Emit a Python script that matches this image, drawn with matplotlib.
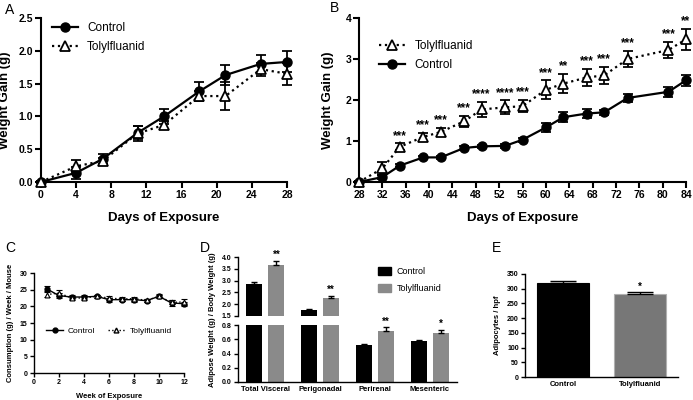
import matplotlib
matplotlib.use('Agg')
import matplotlib.pyplot as plt
from matplotlib.lines import Line2D
from matplotlib.patches import Patch

plt.rcParams['font.family'] = ['Liberation Sans', 'DejaVu Sans']

# Panel A: weight gain, days 0-28
days_a = [0, 4, 7, 11, 14, 18, 21, 25, 28]
ctrl_a = [0, 0.14, 0.35, 0.75, 1.0, 1.38, 1.63, 1.80, 1.83]
ctrl_a_err = [0.02, 0.09, 0.08, 0.10, 0.12, 0.14, 0.15, 0.13, 0.16]
tol_a = [0, 0.24, 0.32, 0.74, 0.87, 1.31, 1.31, 1.72, 1.65]
tol_a_err = [0.02, 0.09, 0.05, 0.12, 0.06, 0.08, 0.21, 0.10, 0.17]

# Panel B: weight gain, days 28-84
days_b = [28, 32, 35, 39, 42, 46, 49, 53, 56, 60, 63, 67, 70, 74, 81, 84]
ctrl_b = [0, 0.12, 0.40, 0.60, 0.60, 0.83, 0.87, 0.88, 1.03, 1.33, 1.58, 1.67, 1.70, 2.05, 2.20, 2.48]
ctrl_b_err = [0.02, 0.05, 0.04, 0.03, 0.03, 0.04, 0.04, 0.04, 0.05, 0.10, 0.12, 0.12, 0.06, 0.10, 0.12, 0.13]
tol_b = [0, 0.33, 0.86, 1.10, 1.22, 1.48, 1.77, 1.82, 1.85, 2.25, 2.40, 2.55, 2.60, 3.00, 3.22, 3.48]
tol_b_err = [0.02, 0.17, 0.08, 0.10, 0.10, 0.13, 0.18, 0.17, 0.15, 0.23, 0.23, 0.20, 0.20, 0.20, 0.20, 0.25]
stars_b = ['', '', '***', '***', '***', '***', '****', '****', '***', '***', '**', '***', '***', '***', '***', '**']

# Panel C: food consumption per week
weeks_c = [1, 2, 3, 4, 5, 6, 7, 8, 9, 10, 11, 12]
ctrl_c = [25.3, 23.2, 22.8, 22.8, 23.0, 22.0, 22.0, 22.0, 21.7, 23.0, 21.0, 20.8]
ctrl_c_err = [0.8, 0.7, 0.5, 0.5, 0.5, 0.6, 0.5, 0.6, 0.4, 0.5, 0.8, 0.6]
tol_c = [23.5, 24.0, 22.5, 22.5, 23.0, 22.5, 22.2, 22.3, 21.8, 23.0, 21.2, 21.3]
tol_c_err = [0.8, 1.0, 0.5, 0.5, 0.5, 0.7, 0.5, 0.6, 0.4, 0.6, 0.6, 0.9]

# Panel D: adipose depots
depots_d = ['Total Visceral', 'Perigonadal', 'Perirenal', 'Mesenteric']
ctrl_d = [2.85, 1.75, 0.52, 0.57]
ctrl_d_err = [0.10, 0.06, 0.02, 0.02]
tol_d = [3.65, 2.25, 0.72, 0.69]
tol_d_err = [0.20, 0.11, 0.05, 0.04]
stars_d = ['**', '**', '**', '*']

# Panel E: adipocyte counts
groups_e = ['Control', 'Tolylfluanid']
vals_e = [318, 282]
errs_e = [8, 8]
stars_e = ['', '*']

GRAY = '#8a8a8a'


def style_axes(ax, lw=1.5, tick_len=4, size=7.5):
    for side in ['top', 'right']:
        ax.spines[side].set_visible(False)
    for side in ['left', 'bottom']:
        ax.spines[side].set_linewidth(lw)
    ax.tick_params(direction='out', length=tick_len, width=lw, labelsize=size, pad=1.5)
    for lab in ax.get_xticklabels() + ax.get_yticklabels():
        lab.set_fontweight('bold')


def line_panel(ax, x, c, ce, t, te, ms=6.5, lw=1.6, cap=3.5):
    ax.errorbar(x, c, yerr=ce, fmt='-o', color='black', mfc='black', mec='black',
                ms=ms, lw=lw, elinewidth=lw * 0.8, capsize=cap, capthick=lw * 0.8,
                clip_on=False, zorder=3, label='Control')
    ax.errorbar(x, t, yerr=te, fmt=':^', color='black', mfc='white', mec='black',
                mew=lw * 0.8, ms=ms, lw=lw, elinewidth=lw * 0.8, capsize=cap,
                capthick=lw * 0.8, clip_on=False, zorder=4, label='Tolylfluanid')


fig = plt.figure(figsize=(6.93, 4.0), dpi=100)

# ---- Panel A
axA = fig.add_axes([41 / 693, 1 - 182 / 400, 246 / 693, 164 / 400])
line_panel(axA, days_a, ctrl_a, ctrl_a_err, tol_a, tol_a_err)
axA.set_xlim(0, 28)
axA.set_ylim(0, 2.5)
axA.set_xticks(range(0, 29, 4))
axA.set_yticks([0, 0.5, 1.0, 1.5, 2.0, 2.5])
axA.set_yticklabels(['0.0', '0.5', '1.0', '1.5', '2.0', '2.5'])
style_axes(axA)
axA.set_xlabel('Days of Exposure', fontsize=9.5, fontweight='bold', labelpad=9)
axA.set_ylabel('Weight Gain (g)', fontsize=9.5, fontweight='bold', labelpad=6)
h = [Line2D([], [], color='black', lw=1.6, marker='o', ms=6.5),
     Line2D([], [], color='black', lw=1.6, ls=':', marker='^', ms=6.5, mfc='white', mew=1.3)]
axA.legend(h, ['Control', 'Tolylfluanid'], loc='upper left', bbox_to_anchor=(0.0, 1.04),
           frameon=False, fontsize=8.5, handlelength=2.2, handletextpad=0.8, labelspacing=0.6)
fig.text(5 / 693, 1 - 10 / 400, 'A', fontsize=10, va='center')

# ---- Panel B
axB = fig.add_axes([359 / 693, 1 - 182 / 400, 327 / 693, 164 / 400])
line_panel(axB, days_b, ctrl_b, ctrl_b_err, tol_b, tol_b_err)
for x, y, e, s in zip(days_b, tol_b, tol_b_err, stars_b):
    if s:
        axB.text(x, y + e + 0.04, s, ha='center', va='bottom', fontsize=8.5, fontweight='bold')
axB.set_xlim(28, 84)
axB.set_ylim(0, 4)
axB.set_xticks(range(28, 85, 4))
axB.set_yticks([0, 1, 2, 3, 4])
style_axes(axB)
axB.set_xlabel('Days of Exposure', fontsize=9.5, fontweight='bold', labelpad=9)
axB.set_ylabel('Weight Gain (g)', fontsize=9.5, fontweight='bold', labelpad=8)
axB.legend(h[::-1], ['Tolylfluanid', 'Control'], loc='upper left', bbox_to_anchor=(0.03, 0.93),
           frameon=False, fontsize=8.5, handlelength=2.2, handletextpad=0.8, labelspacing=0.6)
fig.text(330 / 693, 1 - 8 / 400, 'B', fontsize=10, va='center')

# ---- Panel C
axC = fig.add_axes([34 / 693, 1 - 373 / 400, 150 / 693, 100 / 400])
line_panel(axC, weeks_c, ctrl_c, ctrl_c_err, tol_c, tol_c_err, ms=3.5, lw=1.0, cap=2)
axC.set_xlim(0, 12)
axC.set_ylim(0, 30)
axC.set_xticks(range(0, 13, 2))
axC.set_yticks(range(0, 31, 5))
style_axes(axC, lw=1.0, tick_len=3, size=5)
axC.set_xlabel('Week of Exposure', fontsize=5.5, fontweight='bold', labelpad=5)
axC.set_ylabel('Consumption (g) / Week / Mouse', fontsize=5.5, fontweight='bold', labelpad=4)
hc = [Line2D([], [], color='black', lw=1.0, marker='o', ms=3.5),
      Line2D([], [], color='black', lw=1.0, ls=':', marker='^', ms=3.5, mfc='white')]
axC.legend(hc, ['Control', 'Tolylfluanid'], loc='center', bbox_to_anchor=(0.5, 0.42), ncol=2,
           frameon=False, fontsize=6, handlelength=2.0, handletextpad=0.6, columnspacing=1.5)
fig.text(5 / 693, 1 - 248 / 400, 'C', fontsize=10, va='center')

# ---- Panel D (broken y axis)
dx = range(len(depots_d))
off, bw = 0.2, 0.29
axDt = fig.add_axes([238 / 693, 1 - 316 / 400, 219 / 693, 59 / 400])
axDb = fig.add_axes([238 / 693, 1 - 382 / 400, 219 / 693, 57 / 400])
for ax in [axDt, axDb]:
    ax.bar([i - off for i in dx], ctrl_d, bw, color='black',
           yerr=[[0] * 4, ctrl_d_err], capsize=2.5, error_kw=dict(lw=1, capthick=1))
    ax.bar([i + off for i in dx], tol_d, bw, color=GRAY,
           yerr=[[0] * 4, tol_d_err], capsize=2.5, error_kw=dict(lw=1, capthick=1))
    ax.set_xlim(-0.5, 3.5)
for i, (v, e, s) in enumerate(zip(tol_d, tol_d_err, stars_d)):
    ax = axDt if v > 1.5 else axDb
    pad = 0.03 if v > 1.5 else 0.01
    ax.text(i + off, v + e + pad, s, ha='center', va='bottom', fontsize=7, fontweight='bold')
axDt.set_ylim(1.5, 4.0)
axDt.set_yticks([1.5, 2.0, 2.5, 3.0, 3.5, 4.0])
axDt.set_yticklabels(['1.5', '2.0', '2.5', '3.0', '3.5', '4.0'])
axDt.set_xticks([])
axDt.spines['bottom'].set_visible(False)
style_axes(axDt, lw=1.0, tick_len=3, size=5)
axDb.set_ylim(0, 0.8)
axDb.set_yticks([0, 0.2, 0.4, 0.6, 0.8])
axDb.set_yticklabels(['0.0', '0.2', '0.4', '0.6', '0.8'])
axDb.set_xticks(list(dx))
axDb.set_xticklabels(depots_d)
style_axes(axDb, lw=1.0, tick_len=3, size=5)
axDb.tick_params(axis='x', length=0, labelsize=5.5, pad=3)
fig.text(213 / 693, 1 - 320 / 400, 'Adipose Weight (g) / Body Weight (g)', rotation=90,
         ha='center', va='center', fontsize=5.5, fontweight='bold')
axDt.legend([Patch(color='black'), Patch(color=GRAY)], ['Control', 'Tolylfluanid'],
            loc='upper left', bbox_to_anchor=(0.6, 0.97), frameon=False, fontsize=6.5,
            handlelength=1.5, handleheight=0.9, labelspacing=0.9, handletextpad=0.6)
fig.text(200 / 693, 1 - 248 / 400, 'D', fontsize=10, va='center')

# ---- Panel E
axE = fig.add_axes([525 / 693, 1 - 377 / 400, 153 / 693, 103 / 400])
axE.bar([0, 1], vals_e, 0.68, color=['black', '#777777'], edgecolor=['black', '#b0b0b0'],
        lw=0.8, yerr=[[0, 0], errs_e], capsize=9.5, error_kw=dict(lw=1, capthick=1))
for i, (v, e, s) in enumerate(zip(vals_e, errs_e, stars_e)):
    if s:
        axE.text(i, v + e + 1, s, ha='center', va='bottom', fontsize=7, fontweight='bold')
axE.set_xlim(-0.49, 1.49)
axE.set_ylim(0, 350)
axE.set_yticks(range(0, 351, 50))
axE.set_xticks([0, 1])
axE.set_xticklabels(groups_e)
style_axes(axE, lw=1.0, tick_len=3, size=5)
axE.tick_params(axis='x', length=0, labelsize=5.5, pad=3)
axE.set_ylabel('Adipocytes / hpf', fontsize=5.5, fontweight='bold', labelpad=4)
fig.text(492 / 693, 1 - 248 / 400, 'E', fontsize=10, va='center')

fig.savefig('out.png', dpi=100)
